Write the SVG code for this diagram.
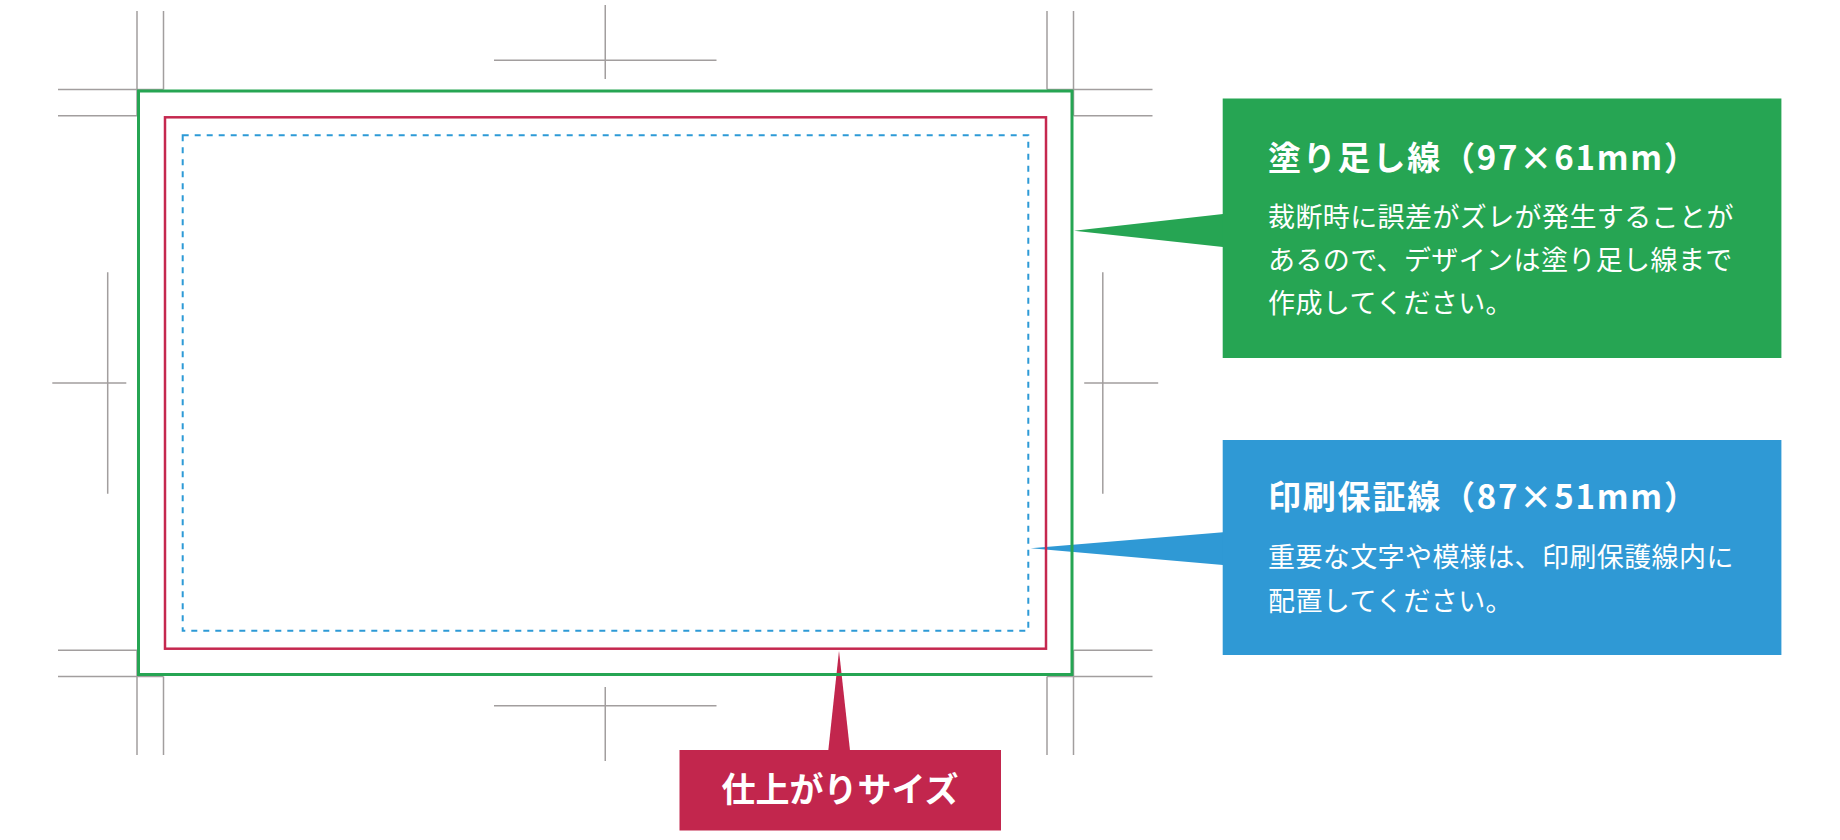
<svg xmlns="http://www.w3.org/2000/svg" width="1840" height="840" viewBox="0 0 1840 840">
<style>
.mark{stroke:#a29e9e;stroke-width:1.5;fill:none}
.t{font-family:"Noto Sans CJK JP","Noto Sans",sans-serif;fill:#fff}
.h{font-size:33px;font-weight:700;letter-spacing:1.8px}
.b{font-size:27px;font-weight:400;letter-spacing:0.4px}
.r{font-size:34px;font-weight:700}
</style>
<rect width="1840" height="840" fill="#fff"/>
<g id="trim-marks" class="mark">
<path d="M58,89.5H163.5M58,115.7H137M137,11V115.7M163.5,11V89.5"/>
<path d="M1152.5,89.5H1047M1152.5,115.7H1073.5M1073.5,11V115.7M1047,11V89.5"/>
<path d="M58,676.5H163.5M58,650.3H137M137,755V650.3M163.5,755V676.5"/>
<path d="M1152.5,676.5H1047M1152.5,650.3H1073.5M1073.5,755V650.3M1047,755V676.5"/>
<path d="M605.25,5V79M494,60.3H716.5"/>
<path d="M605.25,761V687M494,705.7H716.5"/>
<path d="M107.7,272.3V493.7M52.3,383H126.3"/>
<path d="M1102.8,272.3V493.7M1084.2,383H1158.2"/>
</g>
<g id="connectors">
<polygon points="1074,230.7 1223,214 1223,247" fill="#26a553"/>
<polygon points="1030.7,548.3 1223,532.3 1223,565" fill="#2f99d5"/>
<polygon points="839,650.7 828.3,750.5 850,750.5" fill="#c2264d"/>
</g>
<g id="bleed-line"><rect x="138.5" y="91" width="933.5" height="583.5" fill="none" stroke="#26a553" stroke-width="3"/></g>
<g id="trim-line"><rect x="165" y="117.3" width="881" height="531.4" fill="none" stroke="#c5284f" stroke-width="2.5"/></g>
<g id="safe-line"><rect x="182.7" y="135.3" width="845.6" height="495.4" fill="none" stroke="#2d9ad6" stroke-width="2" stroke-dasharray="6 6"/></g>
<g id="bleed-callout">
<rect x="1222.7" y="98.5" width="558.7" height="259.5" fill="#26a553"/>
<text class="t h" x="1268" y="170">塗り足し線（97×61mm）</text>
<text class="t b" x="1268" y="227">裁断時に誤差がズレが発生することが</text>
<text class="t b" x="1268" y="270">あるので、デザインは塗り足し線まで</text>
<text class="t b" x="1268" y="313">作成してください。</text>
</g>
<g id="safe-callout">
<rect x="1222.7" y="440" width="558.7" height="215" fill="#2f99d5"/>
<text class="t h" x="1268" y="509">印刷保証線（87×51mm）</text>
<text class="t b" x="1268" y="567">重要な文字や模様は、印刷保護線内に</text>
<text class="t b" x="1268" y="611">配置してください。</text>
</g>
<g id="trim-callout">
<rect x="679.5" y="750" width="321.5" height="80.5" fill="#c2264d"/>
<text class="t r" x="840" y="802" text-anchor="middle">仕上がりサイズ</text>
</g>
</svg>
